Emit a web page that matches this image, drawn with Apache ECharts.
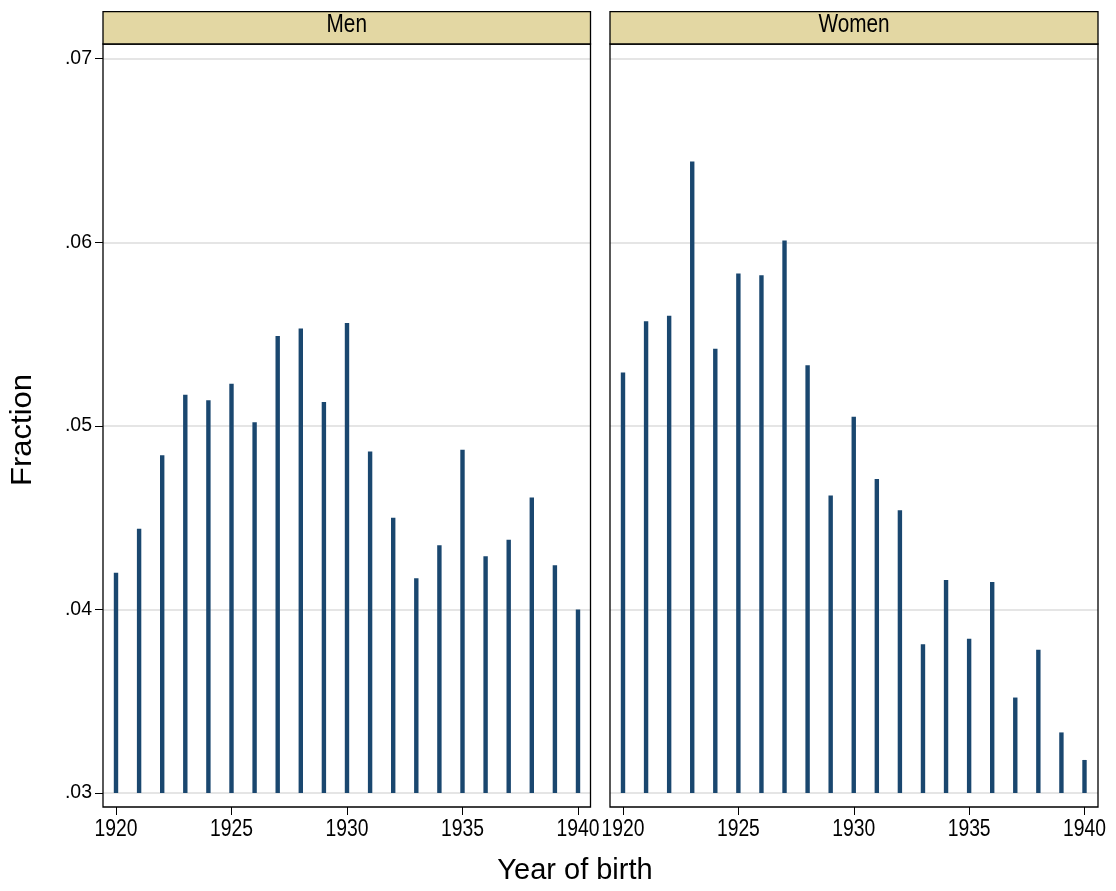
<!DOCTYPE html>
<html>
<head>
<meta charset="utf-8">
<script src="https://cdn.jsdelivr.net/npm/echarts@6/dist/echarts.min.js"></script>
<style>html,body{margin:0;padding:0;background:#fff}#c{width:1116px;height:891px}</style>
</head>
<body>
<div id="c"></div>
<script>
const years = [1920,1921,1922,1923,1924,1925,1926,1927,1928,1929,1930,1931,1932,1933,1934,1935,1936,1937,1938,1939,1940];
const men = [0.0420,0.0444,0.0484,0.0517,0.0514,0.0523,0.0502,0.0549,0.0553,0.0513,0.0556,0.0486,0.0450,0.0417,0.0435,0.0487,0.0429,0.0438,0.0461,0.0424,0.0400];
const women = [0.0529,0.0557,0.0560,0.0644,0.0542,0.0583,0.0582,0.0601,0.0533,0.0462,0.0505,0.0471,0.0454,0.0381,0.0416,0.0384,0.0415,0.0352,0.0378,0.0333,0.0318];
const panels = ['Men','Women'];
const yTicks = ['.03','.04','.05','.06','.07'];
const xTicks = [1920,1925,1930,1935,1940];

const BAR = '#1a476f';
const REG = '"Liberation Sans",Arial,sans-serif';
const yBase = 0.03;

const chart = echarts.init(document.getElementById('c'), null, {renderer:'canvas'});

const P = [ {outerL:103, outerW:487.5, innerL:116, innerW:462},
            {outerL:610, outerW:488, innerL:623, innerW:461.5} ];
const gTop = 58.7, gH = 734.3;
const panTop = 44, panBot = 807, stripTop = 11.7;

const grids = [], xAxes = [], yAxes = [], series = [], graphics = [];
P.forEach((p, i) => {
  grids.push({left:p.outerL, width:p.outerW, top:gTop, height:gH});
  grids.push({left:p.innerL, width:p.innerW, top:gTop, height:gH});
  const go = i*2, gi = i*2+1;
  xAxes.push({gridIndex:go, type:'value', min:0, max:1, show:false});
  xAxes.push({gridIndex:gi, type:'value', min:1920, max:1940, interval:5, position:'bottom', offset:14,
    axisLine:{show:false}, splitLine:{show:false},
    axisTick:{show:true, length:8, lineStyle:{color:'#000', width:1}},
    axisLabel:{show:false}});
  yAxes.push({gridIndex:go, type:'value', min:0.03, max:0.07, interval:0.01,
    axisLine:{show:false},
    axisTick:{show:i===0, length:8, lineStyle:{color:'#000', width:1}},
    axisLabel:{show:i===0, color:'#000', fontFamily:REG, fontSize:19.5, margin:11,
      formatter:v => yTicks[Math.round((v-0.03)/0.01)]},
    splitLine:{show:true, lineStyle:{color:'#dcdcdc', width:1.6}}});
  yAxes.push({gridIndex:gi, type:'value', min:0.03, max:0.07, show:false});
  const data = (i===0?men:women).map((v,k)=>[years[k], v]);
  series.push({type:'custom', xAxisIndex:gi, yAxisIndex:gi, clip:false, z:5,
    renderItem:(params, api) => {
      const x = api.value(0), v = api.value(1);
      const a = api.coord([x, yBase]), b = api.coord([x, v]);
      return {type:'rect', shape:{x:a[0]-2.2, y:b[1], width:4.4, height:a[1]-b[1]},
        style:{fill:BAR}};
    }, data:data});
});

chart.setOption({animation:false, backgroundColor:'#fff', grid:grids, xAxis:xAxes, yAxis:yAxes, series:series});

// panel frames, strips and condensed tick labels placed through the axes' own scales
P.forEach((p, i) => {
  const gi = i*2+1;
  graphics.push({type:'rect', z:100, shape:{x:p.outerL, y:panTop, width:p.outerW, height:panBot-panTop},
    style:{fill:'none', stroke:'#000', lineWidth:1.3}});
  graphics.push({type:'rect', z:100, shape:{x:p.outerL, y:stripTop, width:p.outerW, height:panTop-stripTop},
    style:{fill:'#e3d7a3', stroke:'#000', lineWidth:1.3}});
  graphics.push({type:'text', z:101, x:p.outerL+p.outerW/2, y:25, scaleX:0.83,
    style:{text:panels[i], font:'25px '+REG, fill:'#000', align:'center', verticalAlign:'middle'}});
  xTicks.forEach(v => {
    const px = chart.convertToPixel({xAxisIndex:gi}, v);
    graphics.push({type:'text', z:101, x:px, y:829.5, scaleX:0.84,
      style:{text:String(v), font:'23px '+REG, fill:'#000', align:'center', verticalAlign:'middle'}});
  });
});
graphics.push({type:'text', z:101, x:23, y:430, rotation:Math.PI/2, scaleX:1.07,
  style:{text:'Fraction', font:'29px '+REG, fill:'#000', align:'center', verticalAlign:'middle'}});
graphics.push({type:'text', z:101, x:575, y:871,
  style:{text:'Year of birth', font:'29px '+REG, fill:'#000', align:'center', verticalAlign:'middle'}});

chart.setOption({graphic:graphics});
</script>
</body>
</html>
